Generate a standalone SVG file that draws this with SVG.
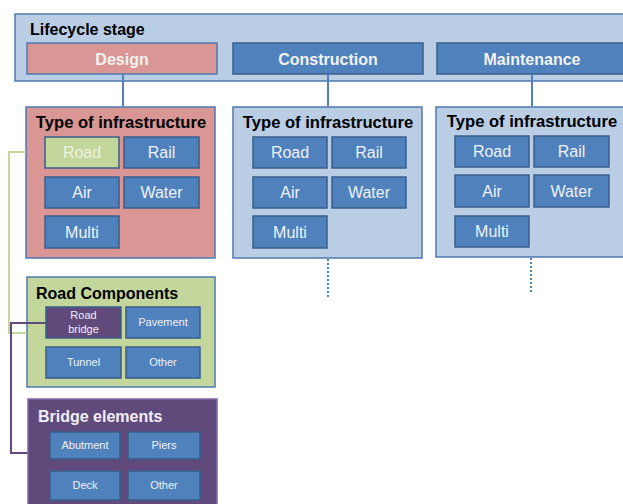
<svg xmlns="http://www.w3.org/2000/svg" width="623" height="504" viewBox="0 0 623 504">
<style>
text{font-family:"Liberation Sans",Arial,sans-serif}
.panel{fill:#b9cde5;stroke:#4f79b0;stroke-width:1.5}
.pink{fill:#d99694;stroke:#4f79b0;stroke-width:1.5}
.greenp{fill:#c3d69b;stroke:#4f79b0;stroke-width:1.5}
.purp{fill:#604a7b;stroke:#7f6aa0;stroke-width:1.5}
.item{fill:#4f81bd;stroke:#385d8a;stroke-width:1.5}
.itemg{fill:#c3d69b;stroke:#385d8a;stroke-width:1.5}
.itemp{fill:#604a7b;stroke:#385d8a;stroke-width:1.5}
.hd{font-weight:bold;font-size:16px;fill:#000}
.hw{font-weight:bold;font-size:16px;fill:#f2f2f2;text-anchor:middle}
.it{font-size:16px;fill:#eef2f8;text-anchor:middle}
.sm{font-size:11px;fill:#eef2f8;text-anchor:middle}
.ti{font-weight:bold;font-size:16.6px;fill:#000;text-anchor:middle}
</style>
<g id="lifecycle">
<rect class="panel" x="15" y="14" width="612" height="67"/>
<text class="hd" x="30" y="35">Lifecycle stage</text>
</g>
<g id="design">
<rect class="pink" x="27" y="43" width="190" height="31"/>
<text class="hw" x="122" y="65">Design</text>
</g>
<g id="construction">
<rect class="item" x="233" y="43" width="190" height="31"/>
<text class="hw" x="328" y="65">Construction</text>
</g>
<g id="maintenance">
<rect class="item" x="437" y="43" width="190" height="31"/>
<text class="hw" x="532" y="65">Maintenance</text>
</g>
<g id="design-infra">
<rect class="pink" x="26" y="107" width="189" height="151"/>
<text class="ti" x="121" y="128">Type of infrastructure</text>
<rect class="itemg" x="45" y="137" width="74" height="31"/>
<text class="it" x="82" y="158" style="fill:#eef3e0">Road</text>
<rect class="item" x="124" y="137" width="75" height="31"/>
<text class="it" x="161.5" y="158">Rail</text>
<rect class="item" x="45" y="177" width="74" height="31"/>
<text class="it" x="82" y="198">Air</text>
<rect class="item" x="124" y="177" width="75" height="31"/>
<text class="it" x="161.5" y="198">Water</text>
<rect class="item" x="45" y="216" width="74" height="32"/>
<text class="it" x="82" y="238">Multi</text>
</g>
<g id="construction-infra">
<rect class="panel" x="233" y="107" width="189" height="151"/>
<text class="ti" x="328" y="128">Type of infrastructure</text>
<rect class="item" x="253" y="137" width="74" height="31"/>
<text class="it" x="290" y="158">Road</text>
<rect class="item" x="332" y="137" width="74" height="31"/>
<text class="it" x="369" y="158">Rail</text>
<rect class="item" x="253" y="177" width="74" height="31"/>
<text class="it" x="290" y="198">Air</text>
<rect class="item" x="332" y="177" width="74" height="31"/>
<text class="it" x="369" y="198">Water</text>
<rect class="item" x="253" y="216" width="74" height="32"/>
<text class="it" x="290" y="238">Multi</text>
</g>
<g id="maintenance-infra">
<rect class="panel" x="436" y="107" width="190" height="150"/>
<text class="ti" x="532" y="127">Type of infrastructure</text>
<rect class="item" x="455" y="136" width="74" height="31"/>
<text class="it" x="492" y="157">Road</text>
<rect class="item" x="534" y="136" width="75" height="31"/>
<text class="it" x="571.5" y="157">Rail</text>
<rect class="item" x="455" y="175" width="74" height="32"/>
<text class="it" x="492" y="197">Air</text>
<rect class="item" x="534" y="175" width="75" height="32"/>
<text class="it" x="571.5" y="197">Water</text>
<rect class="item" x="455" y="216" width="74" height="31"/>
<text class="it" x="492" y="237">Multi</text>
</g>
<g id="road-components">
<rect class="greenp" x="27" y="277" width="188" height="110"/>
<text class="hd" x="36" y="299" font-size="16.5">Road Components</text>
<rect class="itemp" x="46" y="307" width="75" height="31"/>
<text class="sm" x="83.5" y="319">Road</text>
<text class="sm" x="83.5" y="333">bridge</text>
<rect class="item" x="126" y="307" width="74" height="31"/>
<text class="sm" x="163" y="326">Pavement</text>
<rect class="item" x="46" y="347" width="75" height="31"/>
<text class="sm" x="83.5" y="366">Tunnel</text>
<rect class="item" x="126" y="347" width="74" height="31"/>
<text class="sm" x="163" y="366">Other</text>
</g>
<g id="bridge-elements">
<rect class="purp" x="28" y="399" width="189" height="110"/>
<text class="hd" x="38" y="422" font-size="16.5" style="fill:#f2eef7">Bridge elements</text>
<rect class="item" x="50" y="432" width="70" height="27"/>
<text class="sm" x="85" y="449">Abutment</text>
<rect class="item" x="128" y="432" width="72" height="27"/>
<text class="sm" x="164" y="449">Piers</text>
<rect class="item" x="50" y="471" width="70" height="29"/>
<text class="sm" x="85" y="489">Deck</text>
<rect class="item" x="128" y="471" width="72" height="29"/>
<text class="sm" x="164" y="489">Other</text>
</g>
<g id="connectors" fill="none" stroke-width="2">
<path d="M123 74.5V106.5M328 74.5V106.5M532 74.5V106.5" stroke="#4f81bd"/>
<path d="M328 259V297M531 258V293" stroke="#4f81bd" stroke-dasharray="2 2"/>
<path d="M25.5 152H9V333H26.5" stroke="#c3d69b"/>
<path d="M45.5 323H11V453H27.5" stroke="#604a7b"/>
</g>
</svg>
